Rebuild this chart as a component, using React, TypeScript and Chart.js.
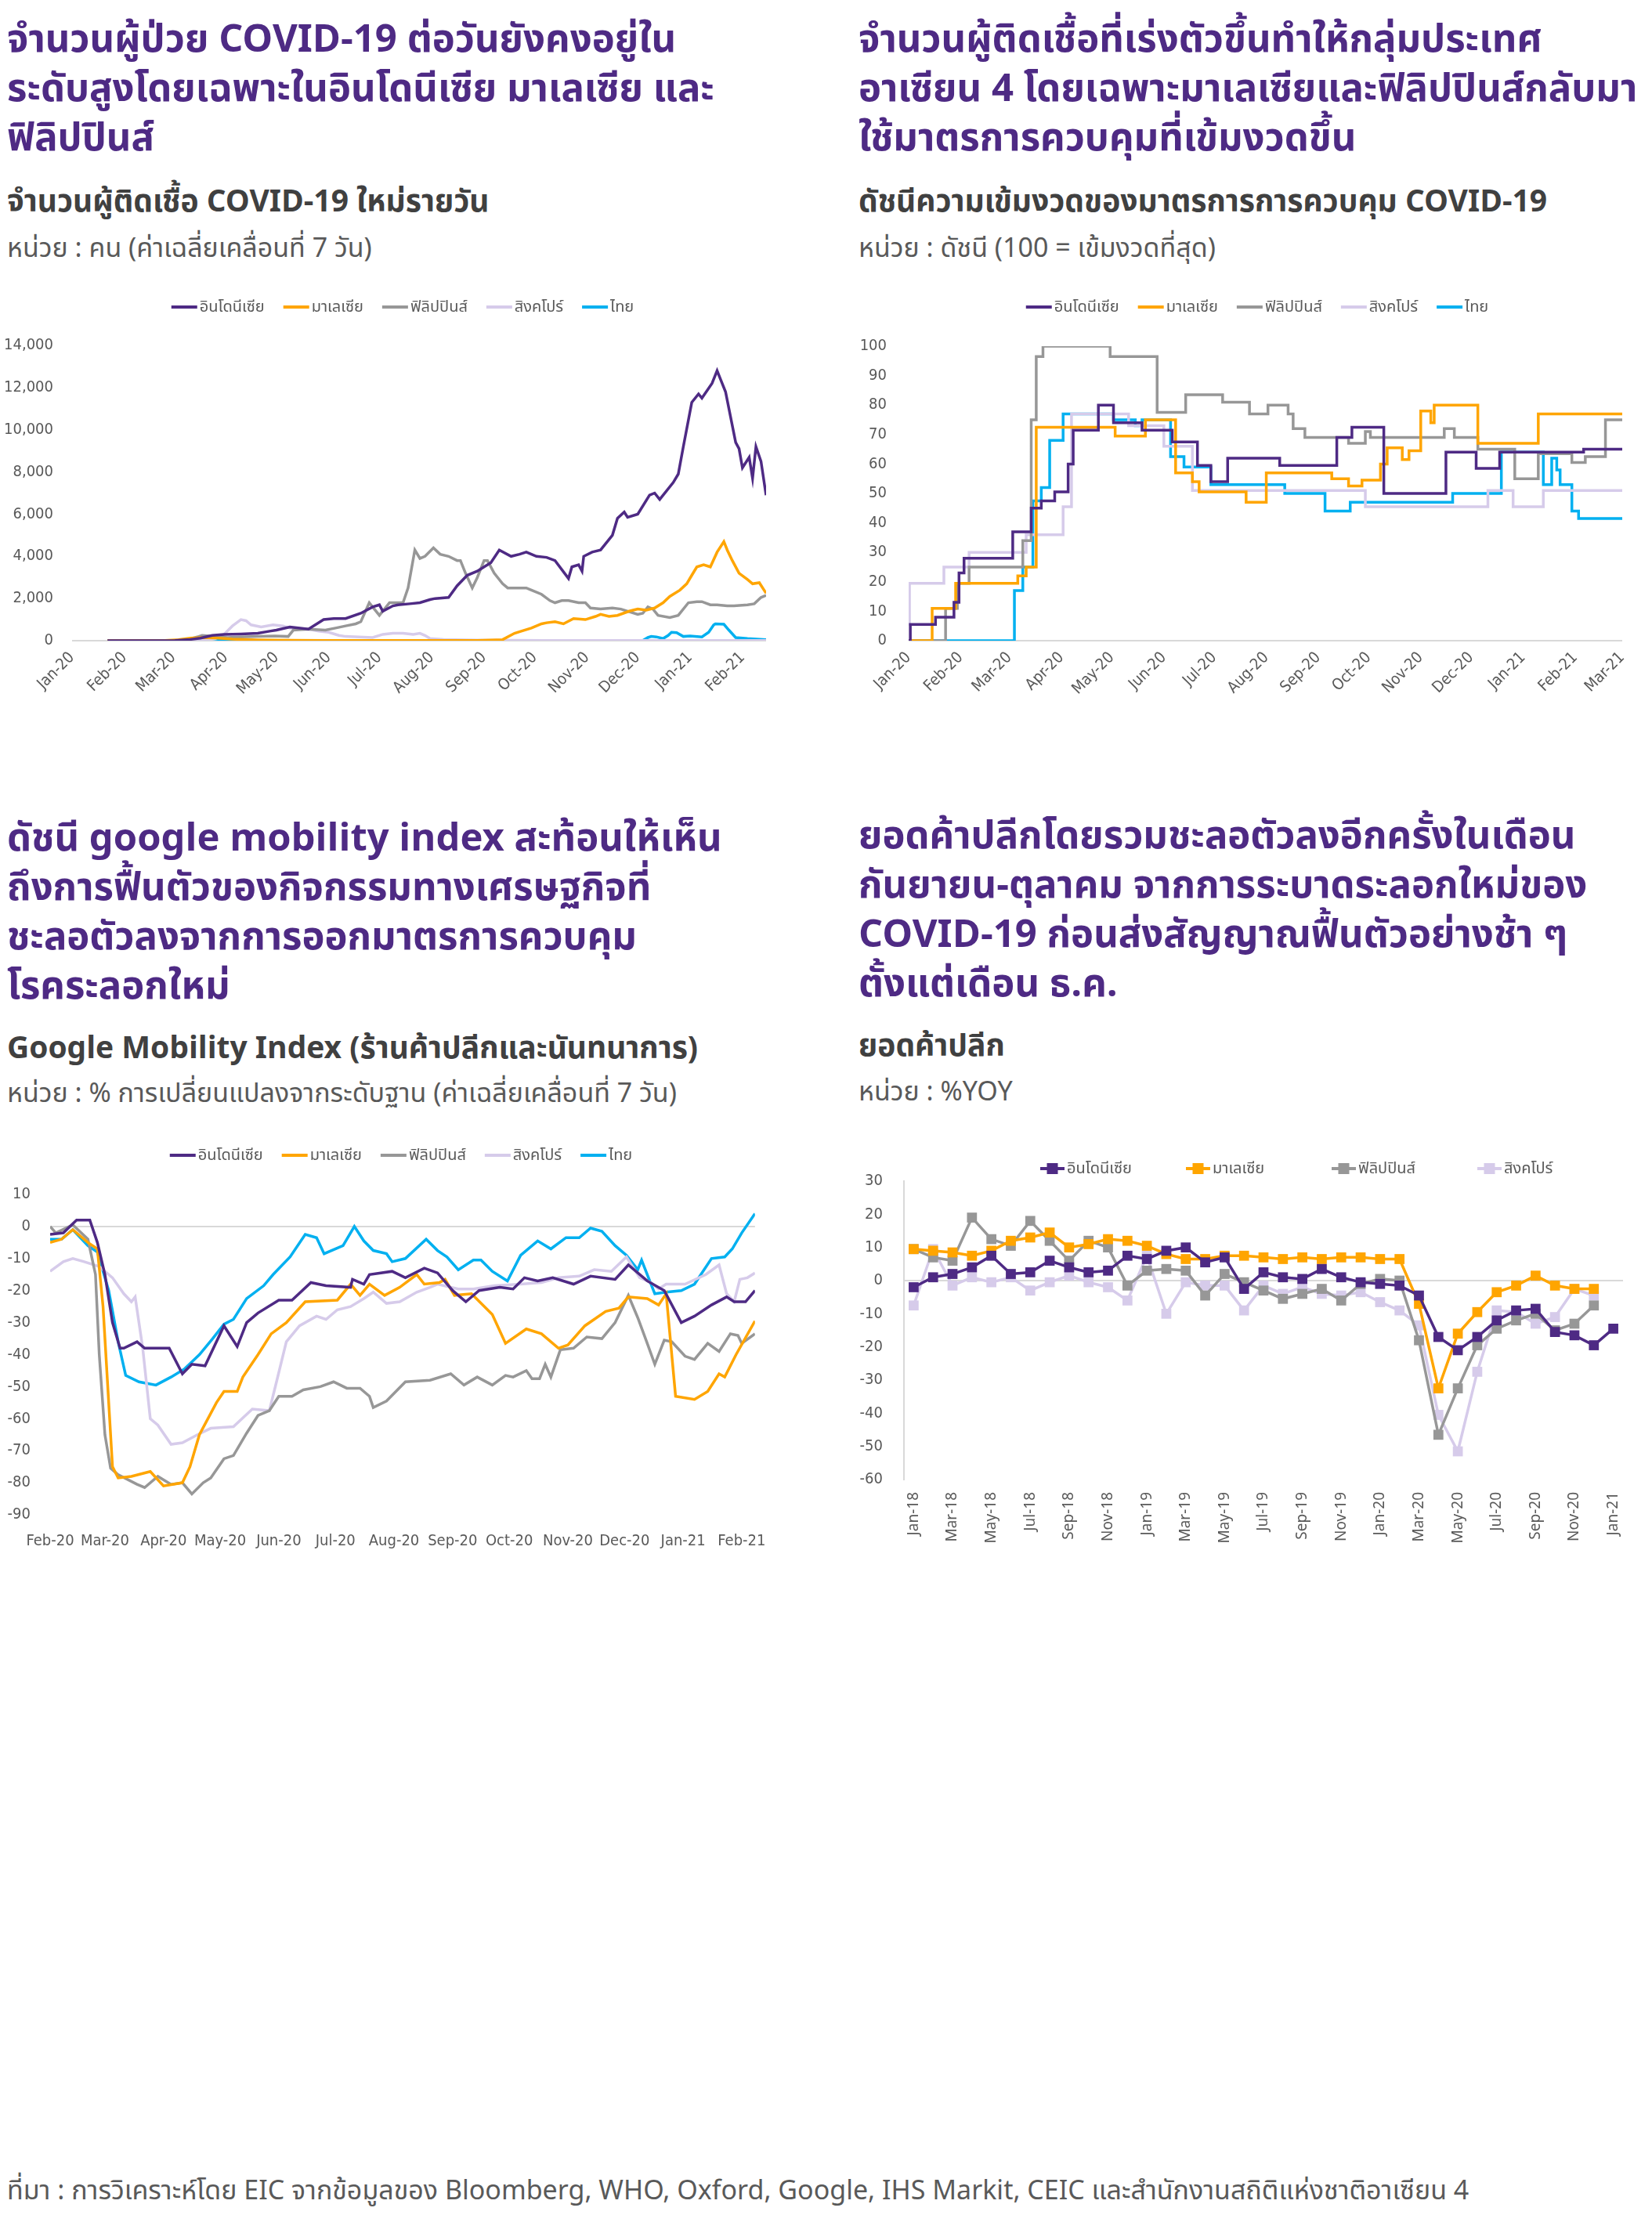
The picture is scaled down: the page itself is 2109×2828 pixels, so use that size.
import React, { useEffect, useRef } from "react";
import { Chart, registerables } from "chart.js";
Chart.register(...registerables);

const FONT = '"Noto Sans Thai", "Noto Sans", "DejaVu Sans", sans-serif';
const TICK_FONT = '"Liberation Sans Narrow", "DejaVu Sans Condensed", "Noto Sans", "Noto Sans Thai", sans-serif';

const countries = ["อินโดนีเซีย", "มาเลเซีย", "ฟิลิปปินส์", "สิงคโปร์", "ไทย"];
const lineColors = ["#4E2A84", "#FFA500", "#979797", "#D6CBEA", "#00B0F0"];

// ---------- Chart 1: daily new cases (x = days since 1 Jan 2020) ----------
const monthStarts1 = [0, 31, 60, 91, 121, 152, 182, 213, 244, 274, 305, 335, 366, 397];
const monthLabels1 = ["Jan-20", "Feb-20", "Mar-20", "Apr-20", "May-20", "Jun-20", "Jul-20", "Aug-20", "Sep-20", "Oct-20", "Nov-20", "Dec-20", "Jan-21", "Feb-21"];
const casesIndonesia = [[21,0],[50,0],[61,5],[70,60],[76,120],[83,250],[90,300],[100,320],[110,350],[117,450],[121,500],[129,650],[134,600],[140,550],[149,1000],[155,1050],[162,1050],[171,1300],[178,1600],[182,1700],[184,1400],[190,1650],[193,1700],[200,1750],[206,1800],[212,1950],[215,2000],[223,2050],[228,2600],[234,3100],[240,3300],[244,3500],[248,3700],[253,4300],[260,4000],[265,4100],[269,4200],[275,4000],[281,3950],[286,3800],[294,2950],[296,3500],[300,3600],[302,3300],[303,4000],[308,4200],[313,4300],[320,5000],[323,5800],[327,6100],[329,5850],[335,6000],[342,6900],[345,7000],[348,6700],[356,7500],[359,7900],[362,9200],[367,11300],[371,11700],[373,11500],[379,12200],[382,12800],[384,12400],[387,11800],[393,9400],[395,9100],[397,8200],[401,8700],[403,7700],[405,9200],[408,8500],[411,6900]];
const casesMalaysia = [[21,0],[55,5],[63,50],[70,120],[77,150],[85,130],[95,70],[110,40],[130,20],[150,10],[200,5],[240,10],[255,50],[262,350],[266,450],[272,600],[278,800],[281,850],[286,900],[291,800],[297,1050],[304,1000],[310,1150],[313,1250],[318,1150],[323,1200],[330,1400],[335,1500],[340,1450],[345,1550],[350,1800],[354,2100],[360,2400],[364,2700],[367,3100],[370,3500],[374,3600],[378,3500],[382,4200],[386,4700],[388,4300],[391,3800],[395,3200],[400,2900],[403,2700],[407,2750],[411,2250]];
const casesPhilippines = [[21,0],[60,0],[68,50],[75,200],[77,250],[85,200],[92,150],[100,180],[110,200],[120,220],[128,200],[131,500],[140,550],[150,500],[156,600],[162,700],[168,800],[171,900],[176,1800],[179,1500],[182,1200],[188,1800],[193,1800],[196,1800],[199,2500],[203,4300],[206,3900],[209,4000],[214,4400],[218,4100],[223,4000],[228,3800],[230,3800],[233,3200],[237,2500],[240,3000],[244,3800],[246,3800],[250,3200],[255,2700],[258,2500],[264,2500],[269,2500],[272,2400],[278,2200],[283,1900],[286,1800],[290,1900],[294,1900],[300,1800],[304,1800],[307,1550],[313,1500],[320,1550],[325,1500],[329,1400],[335,1250],[338,1300],[341,1600],[344,1500],[347,1200],[354,1100],[359,1200],[365,1800],[370,1850],[373,1850],[378,1700],[382,1700],[388,1650],[392,1650],[400,1700],[404,1750],[408,2050],[411,2150]];
const casesSingapore = [[21,0],[60,5],[75,40],[85,100],[90,300],[95,700],[100,1000],[103,950],[106,750],[112,650],[119,750],[125,700],[129,600],[135,550],[140,550],[146,450],[152,400],[158,250],[162,200],[170,180],[178,150],[184,300],[190,350],[196,350],[202,300],[206,350],[209,250],[212,100],[220,60],[240,30],[280,10],[411,10]];
const casesThailand = [[21,0],[60,0],[64,10],[70,60],[75,100],[80,110],[83,100],[88,50],[95,20],[110,5],[300,5],[338,5],[341,150],[343,200],[346,180],[350,100],[353,250],[355,400],[358,380],[362,200],[366,220],[373,180],[377,400],[380,750],[381,800],[386,780],[389,500],[393,150],[400,100],[411,50]];

// ---------- Chart 2: stringency index (x = days since 1 Jan 2020; value holds from that day) ----------
const monthStarts2 = [0, 31, 60, 91, 121, 152, 182, 213, 244, 274, 305, 335, 366, 397, 425];
const monthLabels2 = ["Jan-20", "Feb-20", "Mar-20", "Apr-20", "May-20", "Jun-20", "Jul-20", "Aug-20", "Sep-20", "Oct-20", "Nov-20", "Dec-20", "Jan-21", "Feb-21", "Mar-21"];
const strIndonesia = [[0,0],[1,5.5],[16,8],[27,13],[30,23],[33,28],[62,37],[73,45],[79,47.5],[87,50.5],[95,60],[98,71.5],[113,80],[122,74],[139,71.5],[157,67.5],[172,59.5],[180,54],[190,62],[221,59.5],[255,69],[264,72.5],[283,50],[320,64],[338,58.5],[352,64],[402,65],[425,65]];
const strMalaysia = [[0,0],[14,11],[28,19.5],[65,22],[70,25],[76,72.5],[123,69.5],[141,75],[159,57],[169,54],[173,50.5],[201,47],[213,57],[252,55],[262,52.5],[270,54.5],[281,60],[285,65.5],[294,61.5],[298,64.5],[305,78],[311,74],[313,80],[339,67],[375,77],[425,77]];
const strPhilippines = [[0,0],[22,11],[29,19.5],[36,25],[68,34],[73,75],[76,96.5],[80,100],[120,96.5],[148,77.5],[165,83.5],[187,81],[203,77],[214,80],[226,77],[229,72],[236,69],[262,67],[272,71],[275,69],[319,72],[325,69],[339,65],[361,55],[375,63.5],[395,60.5],[403,62.5],[415,75],[425,75]];
const strSingapore = [[0,5.5],[0.5,19.5],[21,25],[36,30],[70,36],[92,45.5],[97,77],[131,73],[152,66],[169,51],[272,45.5],[345,51],[360,45.5],[378,51],[425,51]];
const strThailand = [[0,0],[63,17],[68,25],[74,47.5],[79,52],[84,68],[92,77],[122,75],[135,73],[139,75],[156,62.5],[164,59],[180,53],[224,50],[248,44],[263,47],[324,50],[353,64],[378,53],[383,62],[386,58],[388,53],[395,44],[399,41.5],[425,41.5]];

// ---------- Chart 3: Google mobility (x = days since 1 Feb 2020) ----------
const monthStarts3 = [0, 29, 60, 90, 121, 151, 182, 213, 243, 274, 304, 335, 366];
const monthLabels3 = ["Feb-20", "Mar-20", "Apr-20", "May-20", "Jun-20", "Jul-20", "Aug-20", "Sep-20", "Oct-20", "Nov-20", "Dec-20", "Jan-21", "Feb-21"];
const mobIndonesia = [[0,-2.5],[7,-2],[14,2],[21,2],[25,-5],[29,-15],[33,-30],[37,-38],[39,-38],[46,-36],[50,-38],[63,-38],[70,-46],[75,-43],[82,-43.5],[92,-31],[99,-37.5],[104,-30],[110,-27],[121,-23],[128,-23],[138,-17.5],[146,-18.5],[159,-19],[160,-16.5],[166,-18],[169,-15],[181,-14],[188,-16],[198,-13],[205,-14.5],[213,-20],[220,-23.5],[227,-20],[238,-19],[245,-19.5],[251,-16],[258,-17],[266,-16],[277,-18],[286,-15.5],[299,-16.5],[306,-12],[316,-17],[325,-20],[334,-30],[341,-28],[350,-24.5],[358,-22],[362,-23.5],[368,-23.5],[373,-20]];
const mobMalaysia = [[0,-5],[6,-4],[12,-1],[20,-5],[25,-7],[28,-25],[31,-55],[33,-75],[36,-78.5],[43,-78],[53,-76.5],[60,-81],[70,-80],[74,-75],[79,-65],[88,-55],[92,-51.5],[99,-51.5],[102,-47],[110,-40],[117,-33.5],[125,-30],[135,-23.5],[152,-23],[159,-18],[164,-21.5],[169,-18],[177,-21.5],[185,-19],[194,-15],[198,-18],[206,-17.5],[209,-16.5],[214,-21.5],[223,-21],[234,-27.5],[241,-36.5],[252,-32],[260,-33.5],[269,-38],[274,-37],[283,-31],[294,-26.5],[301,-25.5],[306,-22],[316,-22.5],[322,-24.5],[326,-21],[331,-53],[341,-54],[348,-51.5],[354,-46],[357,-47],[363,-40],[373,-29.5]];
const mobPhilippines = [[0,0],[3,-2],[12,0.5],[20,-4],[24,-15],[26,-40],[29,-65],[32,-75.5],[36,-77.5],[46,-80.5],[50,-81.5],[57,-78],[64,-80.5],[70,-80],[75,-83.5],[81,-80],[85,-78.5],[92,-72.5],[97,-71.5],[104,-64.5],[110,-59],[116,-57.5],[121,-53],[128,-53],[134,-51],[143,-50],[150,-48.5],[157,-50.5],[164,-50.5],[169,-53],[171,-56.5],[178,-54.5],[188,-48.5],[201,-48],[212,-46],[219,-49.5],[226,-47],[234,-49.5],[241,-46.5],[245,-47],[252,-45],[255,-47.5],[259,-47.5],[262,-43],[265,-47],[270,-38.5],[277,-38],[284,-34.5],[292,-35],[299,-30],[306,-21.5],[311,-28.5],[316,-36.5],[320,-43],[325,-35.5],[329,-36],[336,-40.5],[341,-41.5],[348,-36.5],[354,-39],[360,-33.5],[364,-34],[366,-36.5],[373,-33.5]];
const mobSingapore = [[0,-14],[7,-11],[12,-10],[18,-11],[26,-12.5],[33,-16],[39,-21],[43,-23.5],[45,-22],[49,-38],[53,-60],[57,-62],[64,-68],[70,-67.5],[78,-65],[85,-63],[97,-62.5],[107,-57],[116,-57.5],[120,-48],[125,-36],[132,-31],[141,-28],[146,-29],[152,-26],[159,-25],[166,-22.5],[171,-20.5],[178,-24],[185,-23.5],[194,-20.5],[201,-19],[205,-18],[216,-19.5],[224,-19.5],[235,-18.5],[249,-18],[260,-17.5],[269,-16],[280,-15.5],[288,-13.5],[297,-14],[305,-9.5],[312,-16],[318,-17.5],[322,-19.5],[326,-18],[336,-18],[347,-15],[354,-12],[358,-21],[362,-23.5],[365,-16.5],[369,-16],[373,-14.5]];
const mobThailand = [[0,-4],[6,-4],[12,-1],[20,-6],[25,-8],[31,-20],[36,-36],[40,-46.5],[47,-48.5],[56,-49.5],[64,-47],[71,-44.5],[79,-40],[86,-35],[92,-30.5],[97,-29],[104,-22.5],[113,-18.5],[118,-15],[127,-9.5],[135,-2.5],[141,-3.5],[145,-8.5],[155,-6],[161,0],[166,-4.5],[171,-7.5],[178,-8.5],[181,-11],[188,-10],[199,-4],[205,-7.5],[210,-9.5],[216,-13.5],[224,-10.5],[228,-10.5],[234,-14],[242,-17],[249,-9],[258,-4.5],[265,-7],[273,-3.5],[280,-3.5],[286,-0.5],[292,-1.5],[299,-6],[305,-9],[311,-13.5],[313,-10.5],[320,-21],[326,-20.5],[334,-20],[341,-18],[350,-10],[357,-9.5],[361,-7],[366,-2],[373,4]];

// ---------- Chart 4: retail sales %YoY (monthly) ----------
const retailMonths = ["Jan-18","Feb-18","Mar-18","Apr-18","May-18","Jun-18","Jul-18","Aug-18","Sep-18","Oct-18","Nov-18","Dec-18","Jan-19","Feb-19","Mar-19","Apr-19","May-19","Jun-19","Jul-19","Aug-19","Sep-19","Oct-19","Nov-19","Dec-19","Jan-20","Feb-20","Mar-20","Apr-20","May-20","Jun-20","Jul-20","Aug-20","Sep-20","Oct-20","Nov-20","Dec-20","Jan-21"];
const retailIndonesia = [-2,1,2,4,7.5,2,2.5,6,4,2.5,3,7.5,6.5,9,10,5.5,7,-2.5,2.5,1,0.5,3.5,1,-0.5,-1,-1.5,-4.5,-17,-21,-17,-12,-9,-8.5,-15.5,-16.5,-19.5,-14.5];
const retailMalaysia = [9.5,9,8.5,7.5,9,12,13,14.5,10,11,12.5,12,10.5,8,6.5,6.5,7.5,7.5,7,6.5,7,6.5,7,7,6.5,6.5,-7,-32.5,-16,-9.5,-3.5,-1.5,1.5,-1.5,-2.5,-2.5,null];
const retailPhilippines = [9.5,7,6,19,12.5,10.5,18,12,6,12,10,-1.5,3,3.5,3,-4.5,2,-0.5,-3,-5.5,-4,-2.5,-6,-1,0.5,0,-18,-46.5,-32.5,-19.5,-14.5,-12,-10,-15,-13,-7.5,null];
const retailSingapore = [-7.5,9.5,-1.5,1,-0.5,1,-3,-0.5,1.5,-0.5,-2,-6,7.5,-10,-0.5,-1.5,-1.5,-9,-1.5,-4,-2,-4,-4.5,-3.5,-6.5,-9,-13.5,-40.5,-51.5,-27.5,-9,-9.5,-13,-11,-2.5,-4.5,null];

const TEXT_GRAY = "#595959";
const AXIS_GRAY = "#D9D9D9";

// Legend drawn on the canvas: a row of line (+ optional square marker) and label
const rowLegend = {
  id: "rowLegend",
  afterDraw(chart: any, _a: any, opts: any) {
    if (!opts || opts.y == null) return;
    const ctx = chart.ctx;
    ctx.save();
    ctx.font = `${opts.fontSize}px ${TICK_FONT}`;
    ctx.textBaseline = "middle";
    ctx.textAlign = "left";
    const ds = chart.data.datasets;
    const widths = ds.map((d: any) => opts.lineLen + opts.textGap + ctx.measureText(d.label).width);
    let starts: number[] = [];
    if (opts.slot) {
      starts = ds.map((_d: any, i: number) => opts.startX + i * opts.slot);
    } else {
      const total = widths.reduce((a: number, b: number) => a + b, 0) + opts.gap * (ds.length - 1);
      let x = opts.centerX - total / 2;
      for (const w of widths) { starts.push(x); x += w + opts.gap; }
    }
    ds.forEach((d: any, i: number) => {
      const x = starts[i];
      ctx.strokeStyle = d.borderColor;
      ctx.lineWidth = opts.lineWidth;
      ctx.beginPath();
      ctx.moveTo(x, opts.y);
      ctx.lineTo(x + opts.lineLen, opts.y);
      ctx.stroke();
      if (opts.marker) {
        ctx.fillStyle = d.borderColor;
        const s = opts.marker;
        ctx.fillRect(x + opts.lineLen / 2 - s / 2, opts.y - s / 2, s, s);
      }
      ctx.fillStyle = TEXT_GRAY;
      ctx.fillText(d.label, x + opts.lineLen + opts.textGap, opts.y + 1);
    });
    ctx.restore();
  },
};

// draws the light grey line at value 0
const baselinePlugin = {
  id: "baseline",
  beforeDatasetsDraw(chart: any) {
    const { ctx, chartArea } = chart;
    const y = chart.scales.y.getPixelForValue(0);
    ctx.save();
    ctx.strokeStyle = AXIS_GRAY;
    ctx.lineWidth = 2;
    ctx.beginPath();
    ctx.moveTo(chartArea.left, y);
    ctx.lineTo(chartArea.right, y);
    ctx.stroke();
    ctx.restore();
  },
};

function toXY(arr: number[][]) {
  return arr.map(([x, y]) => ({ x, y }));
}

function zeroGrid(ctx: any) {
  return ctx.tick && ctx.tick.value === 0 ? AXIS_GRAY : "rgba(0,0,0,0)";
}

function lineSet(label: string, color: string, data: any, extra: any = {}) {
  return {
    label,
    data,
    borderColor: color,
    backgroundColor: color,
    borderWidth: 3.5,
    pointRadius: 0,
    pointHoverRadius: 0,
    tension: 0,
    ...extra,
  };
}

function dateAxis(min: number, max: number, starts: number[], labels: string[], rot: number, size: number, pad: number, height: number) {
  return {
    type: "linear",
    min,
    max,
    afterBuildTicks: (scale: any) => {
      scale.ticks = starts.filter((v) => v >= min && v <= max).map((v) => ({ value: v }));
    },
    afterFit: (scale: any) => { scale.height = height; },
    grid: { display: false, drawTicks: false },
    border: { display: false },
    ticks: {
      autoSkip: false,
      minRotation: rot,
      maxRotation: rot,
      padding: pad,
      color: TEXT_GRAY,
      font: { family: TICK_FONT, size },
      callback: (v: any) => labels[starts.indexOf(v)] ?? "",
    },
  };
}

function valueAxis(min: number, max: number, step: number, width: number, pad: number, fmt: (v: number) => string, border = false) {
  return {
    min,
    max,
    afterFit: (scale: any) => { scale.width = width; },
    ticks: { stepSize: step, padding: pad, color: TEXT_GRAY, font: { family: TICK_FONT, size: 20 }, callback: (v: any) => fmt(v) },
    grid: border ? { color: zeroGrid, drawTicks: false, lineWidth: 2 } : { display: false, drawTicks: false },
    border: { display: border, color: AXIS_GRAY, width: 2 },
  };
}

const baseOptions = (padding: any, legend: any, scales: any) => ({
  responsive: false,
  animation: false,
  devicePixelRatio: 1,
  layout: { padding },
  plugins: { legend: { display: false }, tooltip: { enabled: false }, rowLegend: legend },
  scales,
});

function buildCases() {
  const series = [casesIndonesia, casesMalaysia, casesPhilippines, casesSingapore, casesThailand];
  return {
    type: "line",
    data: { datasets: series.map((s, i) => lineSet(countries[i], lineColors[i], toXY(s))) },
    options: baseOptions(
      { left: 0, right: 22, top: 81, bottom: 0 },
      { y: 32, centerX: 514, gap: 24, lineLen: 33, textGap: 3, lineWidth: 4, fontSize: 20 },
      {
        x: dateAxis(0, 411, monthStarts1, monthLabels1, 45, 20, 10, 102),
        y: valueAxis(0, 14000, 2000, 92, 24, (v) => v.toLocaleString("en-US")),
      }
    ),
    plugins: [rowLegend, baselinePlugin],
  };
}

function buildStringency() {
  const series = [strIndonesia, strMalaysia, strPhilippines, strSingapore, strThailand];
  return {
    type: "line",
    data: { datasets: series.map((s, i) => lineSet(countries[i], lineColors[i], toXY(s), { stepped: "before" })) },
    options: baseOptions(
      { left: 0, right: 38, top: 82, bottom: 0 },
      { y: 32, centerX: 545, gap: 24, lineLen: 33, textGap: 3, lineWidth: 4, fontSize: 20 },
      {
        x: dateAxis(0, 425, monthStarts2, monthLabels2, 45, 20, 10, 102),
        y: valueAxis(0, 100, 10, 100, 28, (v) => String(v)),
      }
    ),
    plugins: [rowLegend, baselinePlugin],
  };
}

function buildMobility() {
  const series = [mobIndonesia, mobMalaysia, mobPhilippines, mobSingapore, mobThailand];
  return {
    type: "line",
    data: { datasets: series.map((s, i) => lineSet(countries[i], lineColors[i], toXY(s))) },
    options: baseOptions(
      { left: 0, right: 27, top: 85, bottom: 0 },
      { y: 35, centerX: 512, gap: 24, lineLen: 33, textGap: 3, lineWidth: 4, fontSize: 20 },
      {
        x: dateAxis(0, 373, monthStarts3, monthLabels3, 0, 20, 22, 66),
        y: valueAxis(-90, 10, 10, 64, 25, (v) => String(v)),
      }
    ),
    plugins: [rowLegend, baselinePlugin],
  };
}

function buildRetail() {
  const series = [retailIndonesia, retailMalaysia, retailPhilippines, retailSingapore];
  return {
    type: "line",
    data: {
      labels: retailMonths,
      datasets: series.map((s, i) =>
        lineSet(countries[i], lineColors[i], s, {
          pointRadius: 9,
          pointStyle: "rect",
          pointBackgroundColor: lineColors[i],
          pointBorderColor: lineColors[i],
          pointBorderWidth: 0,
          borderWidth: 3.5,
        })
      ),
    },
    options: baseOptions(
      { left: 0, right: 37, top: 68, bottom: 0 },
      { y: 52, startX: 268, slot: 186, lineLen: 31, textGap: 3, lineWidth: 4, marker: 14, fontSize: 20 },
      {
        x: {
          type: "category",
          offset: true,
          afterFit: (scale: any) => { scale.height = 111; },
          grid: { display: false, drawTicks: false },
          border: { display: false },
          ticks: {
            autoSkip: false,
            minRotation: 90,
            maxRotation: 90,
            padding: 16,
            color: TEXT_GRAY,
            font: { family: '"Noto Sans", sans-serif', size: 19 },
            callback: (_v: any, i: number) => (i % 2 === 0 ? retailMonths[i] : ""),
          },
        },
        y: valueAxis(-60, 30, 10, 94, 27, (v) => String(v), true),
      }
    ),
    plugins: [rowLegend],
  };
}

function ChartBox({ left, top, width, height, build }: any) {
  const ref = useRef<HTMLCanvasElement>(null);
  useEffect(() => {
    const chart = new Chart(ref.current as HTMLCanvasElement, build() as any);
    return () => chart.destroy();
  }, []);
  return (
    <div style={{ position: "absolute", left, top, width, height }}>
      <canvas ref={ref} width={width} height={height} style={{ width, height, display: "block" }} />
    </div>
  );
}

const titleStyle: React.CSSProperties = {
  color: "#4E2A84",
  fontWeight: 700,
  fontSize: 49,
  lineHeight: "63px",
  whiteSpace: "nowrap",
};
const subStyle: React.CSSProperties = { color: "#404040", fontWeight: 700, fontSize: 39, lineHeight: "46px", whiteSpace: "nowrap" };
const unitStyle: React.CSSProperties = { color: TEXT_GRAY, fontWeight: 400, fontSize: 34, lineHeight: "42px", whiteSpace: "nowrap" };
const footStyle: React.CSSProperties = { color: TEXT_GRAY, fontWeight: 400, fontSize: 34, lineHeight: "42px", whiteSpace: "nowrap" };

function Block({ left, top, lines, style }: any) {
  return (
    <div style={{ position: "absolute", left, top, ...style }}>
      {lines.map((l: string, i: number) => (
        <div key={i}>{l}</div>
      ))}
    </div>
  );
}

export default function App() {
  return (
    <div style={{ position: "absolute", left: 0, top: 0, width: 2109, height: 2828, background: "#fff", fontFamily: FONT, overflow: "hidden" }}>
      <Block left={9} top={20} style={titleStyle} lines={["จำนวนผู้ป่วย COVID-19 ต่อวันยังคงอยู่ใน", "ระดับสูงโดยเฉพาะในอินโดนีเซีย มาเลเซีย และ", "ฟิลิปปินส์"]} />
      <Block left={9} top={236} style={subStyle} lines={["จำนวนผู้ติดเชื้อ COVID-19 ใหม่รายวัน"]} />
      <Block left={9} top={297} style={unitStyle} lines={["หน่วย : คน (ค่าเฉลี่ยเคลื่อนที่ 7 วัน)"]} />

      <Block left={1096} top={20} style={titleStyle} lines={["จำนวนผู้ติดเชื้อที่เร่งตัวขึ้นทำให้กลุ่มประเทศ", "อาเซียน 4 โดยเฉพาะมาเลเซียและฟิลิปปินส์กลับมา", "ใช้มาตรการควบคุมที่เข้มงวดขึ้น"]} />
      <Block left={1096} top={236} style={subStyle} lines={["ดัชนีความเข้มงวดของมาตรการการควบคุม COVID-19"]} />
      <Block left={1096} top={297} style={unitStyle} lines={["หน่วย : ดัชนี (100 = เข้มงวดที่สุด)"]} />

      <Block left={9} top={1040} style={titleStyle} lines={["ดัชนี google mobility index สะท้อนให้เห็น", "ถึงการฟื้นตัวของกิจกรรมทางเศรษฐกิจที่", "ชะลอตัวลงจากการออกมาตรการควบคุม", "โรคระลอกใหม่"]} />
      <Block left={9} top={1317} style={subStyle} lines={["Google Mobility Index (ร้านค้าปลีกและนันทนาการ)"]} />
      <Block left={9} top={1376} style={unitStyle} lines={["หน่วย : % การเปลี่ยนแปลงจากระดับฐาน (ค่าเฉลี่ยเคลื่อนที่ 7 วัน)"]} />

      <Block left={1096} top={1037} style={titleStyle} lines={["ยอดค้าปลีกโดยรวมชะลอตัวลงอีกครั้งในเดือน", "กันยายน-ตุลาคม จากการระบาดระลอกใหม่ของ", "COVID-19 ก่อนส่งสัญญาณฟื้นตัวอย่างช้า ๆ", "ตั้งแต่เดือน ธ.ค."]} />
      <Block left={1096} top={1314} style={subStyle} lines={["ยอดค้าปลีก"]} />
      <Block left={1096} top={1374} style={unitStyle} lines={["หน่วย : %YOY"]} />

      <ChartBox left={0} top={360} width={1000} height={560} build={buildCases} />
      <ChartBox left={1060} top={360} width={1049} height={560} build={buildStringency} />
      <ChartBox left={0} top={1440} width={1000} height={560} build={buildMobility} />
      <ChartBox left={1060} top={1440} width={1049} height={560} build={buildRetail} />

      <Block left={9} top={2777} style={footStyle} lines={["ที่มา : การวิเคราะห์โดย EIC จากข้อมูลของ Bloomberg, WHO, Oxford, Google, IHS Markit, CEIC และสำนักงานสถิติแห่งชาติอาเซียน 4"]} />
    </div>
  );
}
